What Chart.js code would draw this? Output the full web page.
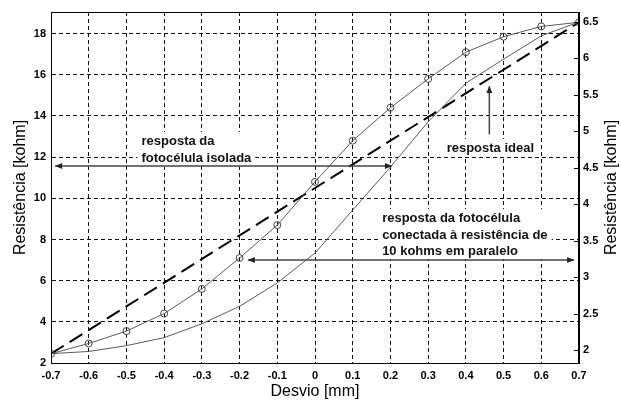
<!DOCTYPE html>
<html>
<head>
<meta charset="utf-8">
<script src="https://cdn.jsdelivr.net/npm/chart.js@4.4.1/dist/chart.umd.min.js"></script>
<style>
html,body{margin:0;padding:0;background:#fff;}
#wrap{width:621px;height:401px;}
</style>
</head>
<body>
<div id="wrap"><canvas id="myChart" width="621" height="401"></canvas></div>
<script>
// dados
const desvio   = [-0.7,-0.6,-0.5,-0.4,-0.3,-0.2,-0.1,0,0.1,0.2,0.3,0.4,0.5,0.6,0.7];
const isolada  = [2.45,2.95,3.55,4.4,5.6,7.1,8.7,10.8,12.8,14.4,15.8,17.1,17.85,18.35,18.55];
const paralelo = [1.95,1.98,2.06,2.17,2.36,2.6,2.92,3.33,3.92,4.51,5.13,5.66,5.99,6.31,6.5];
const idealX   = [-0.7,0.7];
const idealY   = [2.45,18.55];
const ticksEsq = [2,4,6,8,10,12,14,16,18];
const ticksDir = [2,2.5,3,3.5,4,4.5,5,5.5,6,6.5];

const fonte = '"Liberation Sans", Arial, sans-serif';
const fonteNota = 'bold 13px ' + fonte;
Chart.defaults.font.family = fonte;

// blocos de texto (x, linhas de base em unidades do eixo esquerdo)
const notas = [
    {x: -0.46,  linhas: ['resposta da', 'fotocélula isolada'], bases: [12.59, 11.75], alinha: 'left'},
    {x: 0.178,  linhas: ['resposta da fotocélula', 'conectada à resistência de', '10 kohms em paralelo'], bases: [8.85, 8.02, 7.25], alinha: 'left'},
    {x: 0.465,  linhas: ['resposta ideal'], bases: [12.25], alinha: 'center'}
];

function seta(ctx, x, y, ang){
    ctx.save();
    ctx.translate(x, y);
    ctx.rotate(ang);
    ctx.beginPath();
    ctx.moveTo(0,0);
    ctx.lineTo(-7,-3);
    ctx.lineTo(-7,3);
    ctx.closePath();
    ctx.fill();
    ctx.restore();
}

const anotacoes = {
    id: 'anotacoes',
    beforeDatasetsDraw(chart){
        // fundo branco atras dos textos (cobre a grade)
        const ctx = chart.ctx;
        const sx = chart.scales.x, sy = chart.scales.y;
        ctx.save();
        ctx.font = fonteNota;
        ctx.fillStyle = '#fff';
        notas.forEach(n=>{
            const w = Math.max(...n.linhas.map(t=>ctx.measureText(t).width));
            let x0 = sx.getPixelForValue(n.x);
            if (n.alinha === 'center') x0 -= w/2;
            const top = sy.getPixelForValue(n.bases[0]) - 13;
            const bot = sy.getPixelForValue(n.bases[n.bases.length-1]) + 4;
            ctx.fillRect(x0-4, top, w+8, bot-top);
        });
        ctx.restore();
    },
    afterDraw(chart){
        const ctx = chart.ctx;
        const a = chart.chartArea;
        const sx = chart.scales.x, sy = chart.scales.y, sy2 = chart.scales.y2;
        const px = v => sx.getPixelForValue(v);
        const py = v => sy.getPixelForValue(v);

        // moldura
        ctx.save();
        ctx.strokeStyle = '#000';
        ctx.lineWidth = 1;
        ctx.strokeRect(Math.round(a.left)+0.5, Math.round(a.top)+0.5, Math.round(a.right-a.left)-1, Math.round(a.bottom-a.top));
        // marcas do eixo direito
        ticksDir.forEach(v=>{
            const y = Math.round(sy2.getPixelForValue(v))+0.5;
            ctx.beginPath();
            ctx.moveTo(a.right-5, y);
            ctx.lineTo(a.right, y);
            ctx.stroke();
        });

        // titulos dos eixos
        ctx.fillStyle = '#000';
        ctx.font = '16px ' + fonte;
        ctx.textAlign = 'center';
        ctx.textBaseline = 'middle';
        const cy = (a.top+a.bottom)/2;
        ctx.save(); ctx.translate(21, cy); ctx.rotate(-Math.PI/2);
        ctx.fillText('Resistência [kohm]', 0, 0); ctx.restore();
        ctx.save(); ctx.translate(612, cy); ctx.rotate(-Math.PI/2);
        ctx.fillText('Resistência [kohm]', 0, 0); ctx.restore();
        ctx.fillText('Desvio [mm]', (a.left+a.right)/2, 392);

        // textos
        ctx.font = fonteNota;
        ctx.fillStyle = '#111';
        ctx.textBaseline = 'alphabetic';
        notas.forEach(n=>{
            ctx.textAlign = n.alinha;
            n.linhas.forEach((t,i)=> ctx.fillText(t, px(n.x), py(n.bases[i])));
        });

        // setas
        ctx.strokeStyle = '#444';
        ctx.fillStyle = '#222';
        ctx.lineWidth = 1.5;
        const ax1 = px(-0.689), ax2 = px(0.204), y1 = py(11.57);
        ctx.beginPath(); ctx.moveTo(ax1, y1); ctx.lineTo(ax2, y1); ctx.stroke();
        seta(ctx, ax1, y1, Math.PI);
        seta(ctx, ax2, y1, 0);
        const y2 = py(7.0);
        ctx.beginPath(); ctx.moveTo(px(-0.178), y2); ctx.lineTo(px(0.687), y2); ctx.stroke();
        seta(ctx, px(-0.178), y2, Math.PI);
        seta(ctx, px(0.687), y2, 0);
        const xs = px(0.4623);
        ctx.beginPath(); ctx.moveTo(xs, py(13.1)); ctx.lineTo(xs, py(15.45)); ctx.stroke();
        seta(ctx, xs, py(15.45), -Math.PI/2);
        ctx.restore();
    }
};

const fmt = v => (Math.abs(v) < 1e-9 ? '0' : String(Math.round(v*10)/10));

const config = {
    type: 'line',
    data: {
        datasets: [
            {
                label: 'resposta da fotocélula isolada',
                yAxisID: 'y',
                data: desvio.map((x,i)=>({x:x, y:isolada[i]})),
                borderColor: '#5a5a5a',
                borderWidth: 1,
                pointRadius: 3.5,
                pointBackgroundColor: 'rgba(0,0,0,0)',
                pointBorderColor: '#444',
                pointBorderWidth: 1,
                tension: 0
            },
            {
                label: 'resposta da fotocélula conectada à resistência de 10 kohms em paralelo',
                yAxisID: 'y2',
                data: desvio.map((x,i)=>({x:x, y:paralelo[i]})),
                borderColor: '#5a5a5a',
                borderWidth: 1,
                pointRadius: 0,
                tension: 0
            },
            {
                label: 'resposta ideal',
                yAxisID: 'y',
                data: idealX.map((x,i)=>({x:x, y:idealY[i]})),
                borderColor: '#000',
                borderWidth: 2,
                borderDash: [15,7],
                pointRadius: 0
            }
        ]
    },
    options: {
        responsive: false,
        animation: false,
        devicePixelRatio: 1,
        layout: {padding: {top: 12, left: 0, right: 0, bottom: 0}},
        plugins: {legend: {display:false}, tooltip: {enabled:false}},
        scales: {
            x: {
                type: 'linear',
                min: -0.7, max: 0.7,
                afterBuildTicks: s => { s.ticks = desvio.map(v=>({value:v})); },
                afterFit: s => { s.height = 38; },
                grid: {color: '#111', lineWidth: 1, drawTicks: false},
                border: {display: true, color: '#000', width: 1, dash: [4,3]},
                ticks: {padding: 6, color: '#000', font: {size: 11, weight: 'bold'}, maxRotation: 0, autoSkip: false, callback: fmt}
            },
            y: {
                position: 'left',
                min: 2, max: 19.05,
                afterBuildTicks: s => { s.ticks = ticksEsq.map(v=>({value:v})); },
                afterFit: s => { s.width = 51; },
                grid: {color: '#111', lineWidth: 1, drawTicks: false},
                border: {display: true, color: '#000', width: 1, dash: [4,3]},
                ticks: {padding: 5, color: '#000', font: {size: 11, weight: 'bold'}, callback: fmt}
            },
            y2: {
                position: 'right',
                min: 1.822, max: 6.637,
                afterBuildTicks: s => { s.ticks = ticksDir.map(v=>({value:v})); },
                afterFit: s => { s.width = 42; },
                grid: {drawOnChartArea: false, drawTicks: false},
                border: {display: true, color: '#000', width: 1},
                ticks: {padding: 4, color: '#000', font: {size: 11, weight: 'bold'}, callback: fmt}
            }
        }
    },
    plugins: [anotacoes]
};

const myChart = new Chart(document.getElementById('myChart'), config);
</script>
</body>
</html>
